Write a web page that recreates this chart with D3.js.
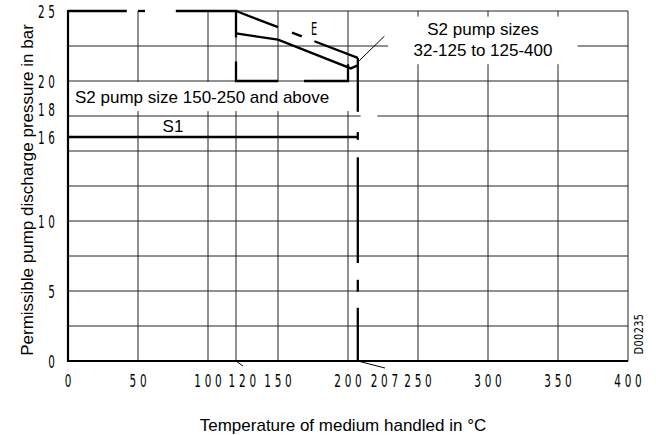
<!DOCTYPE html>
<html>
<head>
<meta charset="utf-8">
<script src="https://cdn.jsdelivr.net/npm/d3@7"></script>
<style>
  body { margin: 0; background: #fff; }
  svg { display: block; }
  .tick-lbl { font-family: "DejaVu Sans", sans-serif; font-weight: normal; font-size: 18px; letter-spacing: 6.5px; fill: #000; }
  .lbl { font-family: "Liberation Sans", Arial, sans-serif; font-size: 17px; fill: #000; }
</style>
</head>
<body>
<svg id="chart" width="656" height="435"></svg>
<script>
// axis ticks (temperature in °C, pressure in bar)
var xTicks = [0, 50, 100, 120, 150, 200, 207, 250, 300, 350, 400];
var yTicks = [0, 5, 10, 16, 18, 20, 25];
var xGrid = [50, 100, 120, 150, 200, 250, 300, 350];
var yGrid = [2.5, 5, 7.5, 10, 12.5, 15, 17.5, 20, 22.5];

// S1 limit: 16 bar up to 207 °C
var s1Line = [[0, 16], [207, 16]];
// S2 32-125 .. 125-400 : upper limit (broken round "E") and lower curve
var s2UpperDashes = [
  [[120, 25], [150, 23.85]],
  [[160, 23.46], [167, 23.19]],
  [[176, 22.84], [207, 21.65]]
];
var s2Lower = [[120, 23.4], [150, 22.95], [202, 20.9], [206.5, 21.1]];
// S2 150-250 and above : long-dash outline at 25 / 20 bar
var s2LargeDashes = [
  [[0, 25], [42, 25]],
  [[50, 25], [55, 25]],
  [[77, 25], [120, 25], [120, 23.1]],
  [[120, 21.4], [120, 20], [150, 20]],
  [[168.6, 20], [200, 20], [200, 21.2]]
];
// 207 °C limit, vertical pieces (bar from / to)
var limit207 = [[21.65, 17.8], [16.35, 15.8], [14.55, 7], [5.8, 4.95], [3.8, 0]];

var svg = d3.select('#chart');
var x = d3.scaleLinear().domain([0, 400]).range([68, 628]);
var y = d3.scaleLinear().domain([0, 25]).range([361, 11]);
var line = d3.line().x(function(d){ return x(d[0]); }).y(function(d){ return y(d[1]); });
var SX = 0.58; // narrow drawing-office digits

// grid
svg.append('g').selectAll('line').data(yGrid).enter().append('line')
  .attr('x1', x(0)).attr('x2', x(400))
  .attr('y1', function(d){ return y(d); }).attr('y2', function(d){ return y(d); })
  .attr('stroke', '#222').attr('stroke-width', 1);
svg.append('g').selectAll('line').data(xGrid).enter().append('line')
  .attr('x1', function(d){ return x(d); }).attr('x2', function(d){ return x(d); })
  .attr('y1', y(0)).attr('y2', y(25))
  .attr('stroke', '#222').attr('stroke-width', 1);

// frame: right and top (top only where no thick dash sits)
svg.append('line').attr('x1', x(400)).attr('x2', x(400)).attr('y1', y(0)).attr('y2', y(25))
  .attr('stroke', '#222').attr('stroke-width', 1);
svg.append('line').attr('x1', x(120)).attr('x2', x(400)).attr('y1', y(25)).attr('y2', y(25))
  .attr('stroke', '#222').attr('stroke-width', 1);

// label backgrounds
svg.append('rect').attr('x', x(0) + 1).attr('y', y(19.93))
  .attr('width', x(206) - x(0)).attr('height', y(17.85) - y(19.93)).attr('fill', '#fff');
svg.append('rect').attr('x', x(228.6)).attr('y', y(24.6))
  .attr('width', x(364) - x(228.6)).attr('height', y(21.2) - y(24.6)).attr('fill', '#fff');
// small break in the 17.5 line right of the 207 limit
svg.append('rect').attr('x', x(209)).attr('y', y(17.5) - 2)
  .attr('width', x(221) - x(209)).attr('height', 4).attr('fill', '#fff');

// axes (left, bottom)
svg.append('line').attr('x1', x(0)).attr('x2', x(0)).attr('y1', y(0) + 1).attr('y2', y(25) - 1)
  .attr('stroke', '#000').attr('stroke-width', 2.2);
svg.append('line').attr('x1', x(0)).attr('x2', x(400)).attr('y1', y(0)).attr('y2', y(0))
  .attr('stroke', '#000').attr('stroke-width', 1.8);

// thick limit lines
var thick = svg.append('g').attr('fill', 'none').attr('stroke', '#000')
  .attr('stroke-width', 2.3).attr('stroke-linejoin', 'miter');
thick.append('path').attr('d', line(s1Line));
s2UpperDashes.forEach(function(d){ thick.append('path').attr('d', line(d)); });
thick.append('path').attr('d', line(s2Lower));
s2LargeDashes.forEach(function(d){ thick.append('path').attr('d', line(d)); });
limit207.forEach(function(d){
  thick.append('path').attr('d', line([[207, d[0]], [207, d[1]]]));
});

// leader lines
var thin = svg.append('g').attr('fill', 'none').attr('stroke', '#000').attr('stroke-width', 1);
thin.append('path').attr('d', line([[120, 0], [125, -0.36]]));
thin.append('path').attr('d', line([[207, 0], [226.4, -0.5]]));
thin.append('path').attr('d', line([[226, 23.2], [207, 21.35]]));

// narrow label helper: scaled horizontally, letter-spacing trailing gap compensated
function narrow(g, px, py, txt, anchor, size, spacing){
  var t = g.append('g').attr('transform', 'translate(' + px + ',' + py + ') scale(' + SX + ',1)')
    .append('text').attr('class', 'tick-lbl').attr('text-anchor', anchor).text(txt);
  if (size) t.style('font-size', size + 'px');
  var sp = spacing == null ? 6.5 : spacing;
  t.style('letter-spacing', sp + 'px');
  if (anchor === 'middle') t.attr('x', sp / 2);
  else if (anchor === 'end') t.attr('x', sp);
  return t;
}

// tick labels
var xLabelPos = { 120: 124.5, 207: 226 };
var xg = svg.append('g');
xTicks.forEach(function(d){
  narrow(xg, x(xLabelPos[d] != null ? xLabelPos[d] : d), 387, d, 'middle');
});
var yg = svg.append('g');
yTicks.forEach(function(d){
  narrow(yg, 55, y(d) + 6.7, d, 'end');
});

// annotations
svg.append('text').attr('class', 'lbl').attr('x', x(0) + 7).attr('y', 103)
  .text('S2 pump size 150-250 and above');
svg.append('text').attr('class', 'lbl').attr('x', 173).attr('y', 132)
  .attr('text-anchor', 'middle').text('S1');
svg.append('text').attr('class', 'lbl').attr('x', 483).attr('y', 35)
  .attr('text-anchor', 'middle').text('S2 pump sizes');
svg.append('text').attr('class', 'lbl').attr('x', 483).attr('y', 56)
  .attr('text-anchor', 'middle').text('32-125 to 125-400');
narrow(svg, 314, 35, 'E', 'middle', 17, 0);

// axis titles
svg.append('text').attr('class', 'lbl')
  .attr('transform', 'translate(33,190) rotate(-90)')
  .attr('text-anchor', 'middle')
  .text('Permissible pump discharge pressure in bar');
svg.append('text').attr('class', 'lbl').attr('x', 343).attr('y', 431)
  .attr('text-anchor', 'middle')
  .text('Temperature of medium handled in °C');

// drawing number
svg.append('g').attr('transform', 'translate(643,334) rotate(-90) scale(0.75,1)')
  .append('text').attr('class', 'tick-lbl')
  .attr('text-anchor', 'middle')
  .style('font-size', '13px').style('letter-spacing', '0.5px')
  .text('D00235');
</script>
</body>
</html>
